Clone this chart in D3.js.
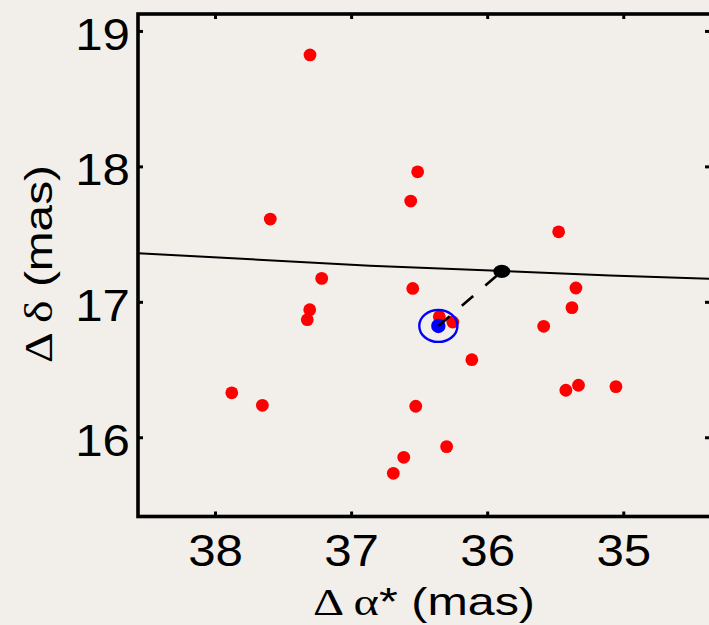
<!DOCTYPE html>
<html>
<head>
<meta charset="utf-8">
<script src="https://cdn.jsdelivr.net/npm/d3@7"></script>
<style>
  html, body { margin: 0; padding: 0; background: #f2efea; }
  svg { display: block; }
  .tick text { font-family: "Liberation Sans", Arial, Helvetica, sans-serif; font-size: 44px; fill: #000; }
</style>
</head>
<body>
<svg id="chart" width="709" height="625"></svg>
<script>
// Relative offsets of the individual measurements (mas)
const pointsRA  = [37.302, 37.594, 36.511, 36.562, 35.475, 37.216, 36.547, 35.348,
                   37.304, 37.322, 35.377, 35.585, 36.352, 36.253, 36.113, 37.877,
                   37.652, 36.525, 35.422, 35.329, 35.054, 36.298, 36.613, 36.690];
const pointsDec = [18.823, 17.611, 17.960, 17.744, 17.517, 17.173, 17.099, 17.102,
                   16.942, 16.868, 16.957, 16.819, 16.890, 16.851, 16.573, 16.328,
                   16.236, 16.229, 16.347, 16.384, 16.374, 15.931, 15.852, 15.734];

// Mean position and its error ellipse (semi-axes in mas)
const meanPos = [36.359, 16.822];
const meanErr = [0.14, 0.118];

// Predicted position on the track
const predPos = [35.893, 17.225];

// Predicted track across the field
const trackRA  = [38.566, 36.861, 35.098, 34.348];
const trackDec = [17.359, 17.267, 17.195, 17.170];

// Axis ticks
const xTicks = [38, 37, 36, 35];
const yTicks = [16, 17, 18, 19];

const svg = d3.select("#chart");
const pLeft = 138, pRight = 712, pTop = 14, pBottom = 516.5;

const x = d3.scaleLinear().domain([38.566, 34.348]).range([pLeft, pRight]);
const y = d3.scaleLinear().domain([15.415, 19.125]).range([pBottom, pTop]);

svg.append("defs").append("clipPath").attr("id", "plotArea")
  .append("rect").attr("x", pLeft).attr("y", pTop)
  .attr("width", pRight - pLeft).attr("height", pBottom - pTop);

const plot = svg.append("g").attr("clip-path", "url(#plotArea)");

// Track line
plot.append("path")
  .datum(d3.zip(trackRA, trackDec))
  .attr("d", d3.line().x(d => x(d[0])).y(d => y(d[1])))
  .attr("fill", "none").attr("stroke", "#000").attr("stroke-width", 2);

// Individual measurements
plot.selectAll("circle.meas")
  .data(d3.zip(pointsRA, pointsDec))
  .join("circle").attr("class", "meas")
  .attr("cx", d => x(d[0])).attr("cy", d => y(d[1]))
  .attr("r", 6.4).attr("fill", "#ff0000");

// Mean position
plot.append("circle")
  .attr("cx", x(meanPos[0])).attr("cy", y(meanPos[1]))
  .attr("r", 7.2).attr("fill", "#0000ff");

// Offset between mean and predicted position
plot.append("line")
  .attr("x1", x(meanPos[0])).attr("y1", y(meanPos[1]))
  .attr("x2", x(predPos[0])).attr("y2", y(predPos[1]))
  .attr("stroke", "#000").attr("stroke-width", 2.6)
  .attr("stroke-dasharray", "15,16");

// Error ellipse
plot.append("ellipse")
  .attr("cx", x(meanPos[0])).attr("cy", y(meanPos[1]))
  .attr("rx", Math.abs(x(meanPos[0] + meanErr[0]) - x(meanPos[0])))
  .attr("ry", Math.abs(y(meanPos[1] + meanErr[1]) - y(meanPos[1])))
  .attr("fill", "none").attr("stroke", "#0000ff").attr("stroke-width", 2.4);

// Predicted position
plot.append("ellipse")
  .attr("cx", x(predPos[0])).attr("cy", y(predPos[1]))
  .attr("rx", 8.5).attr("ry", 6.6).attr("fill", "#000");

// Axes
const stretch = 1.12;
const axisStyle = g => {
  g.select(".domain").remove();
  g.selectAll(".tick line").attr("stroke", "#000").attr("stroke-width", 3);
};

svg.append("g").attr("transform", `translate(0,${pBottom})`)
  .call(d3.axisBottom(x).tickValues(xTicks).tickFormat(d3.format("d")).tickSize(-5).tickPadding(18.5))
  .call(axisStyle)
  .call(g => g.selectAll(".tick text").attr("transform", `scale(${stretch},1)`));
svg.append("g").attr("transform", `translate(0,${pTop})`)
  .call(d3.axisTop(x).tickValues(xTicks).tickFormat("").tickSize(-5))
  .call(axisStyle);
svg.append("g").attr("transform", `translate(${pLeft},0)`)
  .call(d3.axisLeft(y).tickValues(yTicks).tickFormat(d3.format("d")).tickSize(-5).tickPadding(8))
  .call(axisStyle)
  .call(g => g.selectAll(".tick text")
    .attr("x", -8 / stretch).attr("dy", "0.415em")
    .attr("transform", `scale(${stretch},1)`));
svg.append("g").attr("transform", `translate(${pRight},0)`)
  .call(d3.axisRight(y).tickValues(yTicks).tickFormat("").tickSize(-7))
  .call(axisStyle);

svg.selectAll(".tick text").attr("font-family", null).attr("font-size", null);

// Frame
svg.append("rect")
  .attr("x", pLeft).attr("y", pTop)
  .attr("width", pRight - pLeft).attr("height", pBottom - pTop)
  .attr("fill", "none").attr("stroke", "#000").attr("stroke-width", 3.6);

// Axis titles
const sans = "'Liberation Sans', Arial, Helvetica, sans-serif";
const serif = "'Liberation Serif', 'Times New Roman', serif";

function title(g, greek, rest, length) {
  const t = g.append("text")
    .attr("text-anchor", "middle")
    .attr("font-family", sans).attr("font-size", 39).attr("fill", "#000");
  t.append("tspan").attr("font-family", serif).text(greek);
  t.append("tspan").text(rest);
  const w = t.node().getComputedTextLength();
  t.attr("transform", `scale(${length / w},1)`);
  return t;
}

const xTitleG = svg.append("g")
  .attr("transform", `translate(424,614.5)`);
title(xTitleG, "Δ α", "* (mas)", 222);

const yTitleG = svg.append("g")
  .attr("transform", `translate(52,264) rotate(-90)`);
title(yTitleG, "Δ δ", " (mas)", 198);
</script>
</body>
</html>
